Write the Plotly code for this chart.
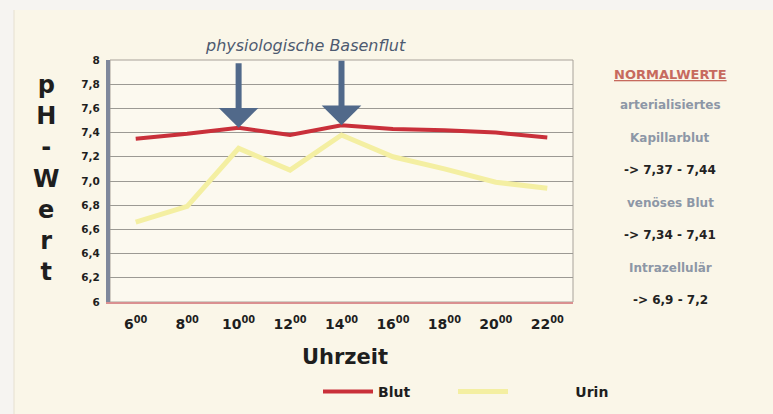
import plotly.graph_objects as go

hours = ["6", "8", "10", "12", "14", "16", "18", "20", "22"]
blut = [7.35, 7.39, 7.44, 7.38, 7.46, 7.43, 7.42, 7.40, 7.36]
urin = [6.66, 6.79, 7.27, 7.09, 7.38, 7.20, 7.10, 6.99, 6.94]
y_ticks = [6.0, 6.2, 6.4, 6.6, 6.8, 7.0, 7.2, 7.4, 7.6, 7.8, 8.0]
y_labels = ["6", "6,2", "6,4", "6,6", "6,8", "7,0", "7,2", "7,4", "7,6", "7,8", "8"]
arrow_hours = ["10", "14"]
normal_lines = [
    ("arterialisiertes", "#8d97a6"),
    ("Kapillarblut", "#8d97a6"),
    ("-> 7,37 - 7,44", "#222222"),
    ("venöses Blut", "#8d97a6"),
    ("-> 7,34 - 7,41", "#222222"),
    ("Intrazellulär", "#8d97a6"),
    ("-> 6,9 - 7,2", "#222222"),
]

x_labels = ["<b>" + h + "<sup>00</sup></b>" for h in hours]
y_text = ["<b>" + s + "</b>" for s in y_labels]
FONT = "DejaVu Sans"

fig = go.Figure()
fig.add_trace(go.Scatter(x=hours, y=blut, mode="lines", name="<b>Blut</b>",
                         line=dict(color="#c9303a", width=4), legend="legend"))
fig.add_trace(go.Scatter(x=hours, y=urin, mode="lines",
                         name="&nbsp;" * 14 + "<b>Urin</b>",
                         line=dict(color="#f4efa2", width=5), legend="legend2"))

W, H = 773, 414
L, R, T, B = 110, 200, 60, 112
pw, ph = W - L - R, H - T - B

def px(x):
    return (x - L) / pw

def py(y):
    return 1 - (y - T) / ph

shapes = [
    dict(type="rect", xref="paper", yref="paper", x0=px(0), x1=px(W), y0=py(10), y1=py(0),
         fillcolor="#f6f4f1", line=dict(width=0), layer="below"),
    dict(type="rect", xref="paper", yref="paper", x0=px(0), x1=px(14), y0=py(H), y1=py(0),
         fillcolor="#f6f4f1", line=dict(width=0), layer="below"),
    dict(type="line", xref="paper", yref="paper", x0=px(14), x1=px(14), y0=py(H), y1=py(10),
         line=dict(color="#e6e0d0", width=1), layer="below"),
    dict(type="rect", xref="paper", yref="paper", x0=0, x1=1, y0=0, y1=1,
         line=dict(color="#a8a29a", width=1), layer="below"),
]

annotations = []
for h in arrow_hours:
    i = hours.index(h)
    annotations.append(dict(x=i, y=blut[i], xref="x", yref="y", ax=0, ay=-66,
                            showarrow=True, arrowhead=1, arrowsize=1.1, arrowwidth=6,
                            arrowcolor="#51698a", text=""))

annotations.append(dict(text="<i>physiologische Basenflut</i>", x=px(305), y=py(45),
                        xref="paper", yref="paper", showarrow=False,
                        font=dict(family=FONT, size=16, color="#4d5a70"),
                        xanchor="center", yanchor="middle"))

annotations.append(dict(text="<b>p<br>H<br>-<br>W<br>e<br>r<br>t</b>", x=px(46), y=py(178),
                        xref="paper", yref="paper", showarrow=False, align="center",
                        font=dict(family=FONT, size=24, color="#1e1e1e"),
                        xanchor="center", yanchor="middle"))

annotations.append(dict(text="<b>Uhrzeit</b>", x=px(345), y=py(357), xref="paper", yref="paper",
                        showarrow=False, font=dict(family=FONT, size=21, color="#1e1e1e"),
                        xanchor="center", yanchor="middle"))

annotations.append(dict(text="<b><u>NORMALWERTE</u></b>", x=px(670), y=py(74), xref="paper",
                        yref="paper", showarrow=False,
                        font=dict(family=FONT, size=13, color="#c76a5e"),
                        xanchor="center", yanchor="middle"))
y0 = 105
for k, (txt, col) in enumerate(normal_lines):
    annotations.append(dict(text="<b>%s</b>" % txt,
                            x=px(670), y=py(y0 + k * 32.5), xref="paper", yref="paper",
                            showarrow=False, font=dict(family=FONT, size=12, color=col),
                            xanchor="center", yanchor="middle"))

legend_common = dict(orientation="h", yanchor="middle", xanchor="left",
                     xref="container", yref="container", bgcolor="rgba(0,0,0,0)",
                     font=dict(family=FONT, size=14, color="#1e1e1e"), itemwidth=50)

fig.update_layout(
    width=W, height=H, autosize=False,
    margin=dict(l=L, r=R, t=T, b=B),
    paper_bgcolor="#faf6e8",
    plot_bgcolor="#fcf9ef",
    showlegend=True,
    legend=dict(x=318 / W, y=1 - 392 / H, **legend_common),
    legend2=dict(x=453 / W, y=1 - 392 / H, entrywidth=200, **legend_common),
    xaxis=dict(type="category", range=[-0.5, len(hours) - 0.5], tickvals=hours,
               ticktext=x_labels, showgrid=False, tickangle=0,
               showline=True, linecolor="#d99090", linewidth=2, ticks="",
               tickfont=dict(family=FONT, size=14, color="#1e1e1e"), ticklabelstandoff=8),
    yaxis=dict(range=[6, 8], tickvals=y_ticks, ticktext=y_text, showgrid=True,
               gridcolor="#9c9a94", gridwidth=1, showline=True, linecolor="#7f889c",
               linewidth=4, ticks="", zeroline=False,
               tickfont=dict(family=FONT, size=10.5, color="#1e1e1e"), ticklabelstandoff=4),
    shapes=shapes,
    annotations=annotations,
)

fig.write_html("out.html",
               post_script="document.body.style.margin='0';document.documentElement.style.overflow='hidden';",
               config={"displayModeBar": False, "responsive": False},
               default_width="773px", default_height="414px")
